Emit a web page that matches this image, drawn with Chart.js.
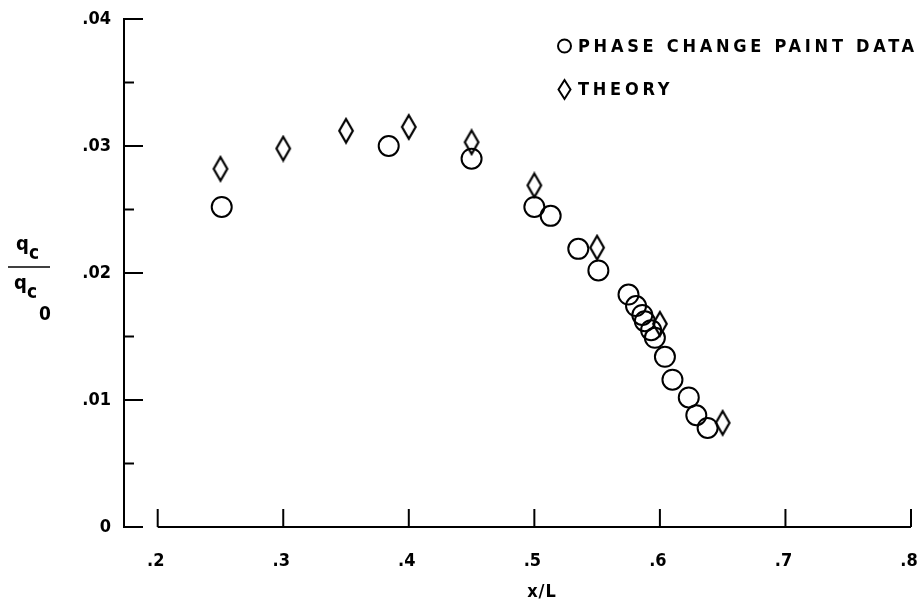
<!DOCTYPE html>
<html>
<head>
<meta charset="utf-8">
<script src="https://cdn.jsdelivr.net/npm/chart.js@4/dist/chart.umd.min.js"></script>
<style>
  html, body { margin: 0; padding: 0; background: #fff; }
  #chart { display: block; }
</style>
</head>
<body>
<canvas id="chart" width="924" height="604"></canvas>
<script>
// Phase change paint data (open circles)
const paintX = [0.251, 0.384, 0.450, 0.500, 0.513, 0.535, 0.551, 0.575, 0.581, 0.586, 0.588, 0.593, 0.596, 0.604, 0.610, 0.623, 0.629, 0.638];
const paintY = [0.0252, 0.0300, 0.0290, 0.0252, 0.0245, 0.0219, 0.0202, 0.0183, 0.0174, 0.0167, 0.0162, 0.0155, 0.0149, 0.0134, 0.0116, 0.0102, 0.0088, 0.0078];

// Theory (diamonds)
const theoryX = [0.25, 0.30, 0.35, 0.40, 0.45, 0.50, 0.55, 0.60, 0.65];
const theoryY = [0.0282, 0.0298, 0.0312, 0.0315, 0.0303, 0.0269, 0.0220, 0.0160, 0.0082];

// Axis ticks
const xTicks = [0.2, 0.3, 0.4, 0.5, 0.6, 0.7, 0.8];
const xTickLabels = ['.2', '.3', '.4', '.5', '.6', '.7', '.8'];
const yTicks = [0, 0.005, 0.01, 0.015, 0.02, 0.025, 0.03, 0.035, 0.04];
const yTickLabels = ['0', '', '.01', '', '.02', '', '.03', '', '.04'];

const seriesLabels = ['PHASE CHANGE PAINT DATA', 'THEORY'];
const FONT = '"DejaVu Sans Condensed", "DejaVu Sans", sans-serif';

// tall open diamond used as the point style for the theory points
function makeDiamond(w, h, lw) {
    const c = document.createElement('canvas');
    c.width = w + lw * 2;
    c.height = h + lw * 2;
    const g = c.getContext('2d');
    g.strokeStyle = '#000';
    g.lineWidth = lw;
    g.beginPath();
    g.moveTo(c.width / 2, lw);
    g.lineTo(c.width - lw, c.height / 2);
    g.lineTo(c.width / 2, c.height - lw);
    g.lineTo(lw, c.height / 2);
    g.closePath();
    g.stroke();
    return c;
}

const toPoints = (xs, ys) => xs.map((v, i) => ({ x: v, y: ys[i] }));

// axes, legend and titles drawn in the old report style
const paperAxes = {
    id: 'paperAxes',
    afterDraw(chart) {
        const { ctx, chartArea, scales: { x, y } } = chart;
        const line = (x1, y1, x2, y2) => {
            ctx.beginPath();
            ctx.moveTo(x1, y1);
            ctx.lineTo(x2, y2);
            ctx.stroke();
        };
        ctx.save();
        ctx.strokeStyle = '#000';
        ctx.fillStyle = '#000';
        ctx.lineWidth = 2;

        // y axis with inward ticks
        const left = chartArea.left;
        line(left, y.getPixelForValue(0.04) - 1, left, y.getPixelForValue(0) + 1);
        yTicks.forEach((v, i) => {
            const py = y.getPixelForValue(v);
            line(left, py, left + (yTickLabels[i] ? 19 : 10), py);
        });

        // x axis starts at .2, ticks point up
        const py0 = y.getPixelForValue(0);
        line(x.getPixelForValue(0.2), py0, x.getPixelForValue(0.8), py0);
        xTicks.forEach(v => {
            const px = x.getPixelForValue(v);
            line(px, py0, px, py0 - 18);
        });

        // legend, spaced out like the lettering guide text
        ctx.font = 'bold 18px ' + FONT;
        ctx.letterSpacing = '0px';
        const w0 = ctx.measureText(seriesLabels[0]).width;
        const spacing = Math.max(0, (336 - w0) / (seriesLabels[0].length - 1));
        ctx.letterSpacing = spacing.toFixed(2) + 'px';
        ctx.textBaseline = 'middle';
        ctx.textAlign = 'left';
        ctx.beginPath();
        ctx.arc(564.5, 46, 6.5, 0, Math.PI * 2);
        ctx.stroke();
        ctx.fillText(seriesLabels[0], 578, 47);
        ctx.beginPath();
        ctx.moveTo(564.5, 80);
        ctx.lineTo(570.5, 89.5);
        ctx.lineTo(564.5, 99);
        ctx.lineTo(558.5, 89.5);
        ctx.closePath();
        ctx.stroke();
        ctx.fillText(seriesLabels[1], 578, 90);

        // x title
        ctx.letterSpacing = '1px';
        ctx.textAlign = 'center';
        ctx.fillText('x/L', 542, 592);

        // y title: q_c / q_c0
        ctx.letterSpacing = '0px';
        ctx.textAlign = 'left';
        ctx.textBaseline = 'alphabetic';
        ctx.font = 'bold 20px ' + FONT;
        ctx.fillText('q', 16, 250);
        ctx.fillText('q', 14, 289);
        ctx.font = 'bold 19px ' + FONT;
        ctx.fillText('c', 29, 259);
        ctx.fillText('c', 27, 298);
        ctx.fillText('0', 39, 320);
        ctx.lineWidth = 1.5;
        line(8, 267, 50, 267);
        ctx.restore();
    }
};

new Chart(document.getElementById('chart'), {
    type: 'scatter',
    data: {
        datasets: [
            {
                label: seriesLabels[0],
                data: toPoints(paintX, paintY),
                pointStyle: 'circle',
                pointRadius: 10,
                pointBorderWidth: 2,
                borderColor: '#000',
                backgroundColor: 'rgba(0,0,0,0)'
            },
            {
                label: seriesLabels[1],
                data: toPoints(theoryX, theoryY),
                pointStyle: makeDiamond(14, 24, 2.2),
                pointRadius: 12,
                borderColor: '#000',
                backgroundColor: 'rgba(0,0,0,0)'
            }
        ]
    },
    options: {
        responsive: false,
        animation: false,
        events: [],
        layout: { padding: { top: 19, right: 6, left: 0, bottom: 0 } },
        plugins: {
            legend: { display: false },
            tooltip: { enabled: false }
        },
        scales: {
            x: {
                type: 'linear',
                min: 0.2 - 34 / 1266.7,
                max: 0.8,
                afterBuildTicks: scale => { scale.ticks = xTicks.map(v => ({ value: v })); },
                afterFit: scale => {
                    scale.height = 77;
                    scale.paddingLeft = 0;
                    scale.paddingRight = 0;
                },
                grid: { display: false, drawTicks: false },
                border: { display: false },
                ticks: {
                    autoSkip: false,
                    maxRotation: 0,
                    padding: 24,
                    labelOffset: -2,
                    color: '#000',
                    font: { size: 18, family: FONT, weight: 'bold' },
                    callback: (value, index) => xTickLabels[index]
                }
            },
            y: {
                type: 'linear',
                min: 0,
                max: 0.04,
                afterBuildTicks: scale => { scale.ticks = yTicks.map(v => ({ value: v })); },
                afterFit: scale => {
                    scale.width = 124;
                    scale.paddingTop = 0;
                    scale.paddingBottom = 0;
                },
                grid: { display: false, drawTicks: false },
                border: { display: false },
                ticks: {
                    autoSkip: false,
                    padding: 13,
                    color: '#000',
                    font: { size: 18, family: FONT, weight: 'bold' },
                    callback: (value, index) => yTickLabels[index]
                }
            }
        }
    },
    plugins: [paperAxes]
});
</script>
</body>
</html>
